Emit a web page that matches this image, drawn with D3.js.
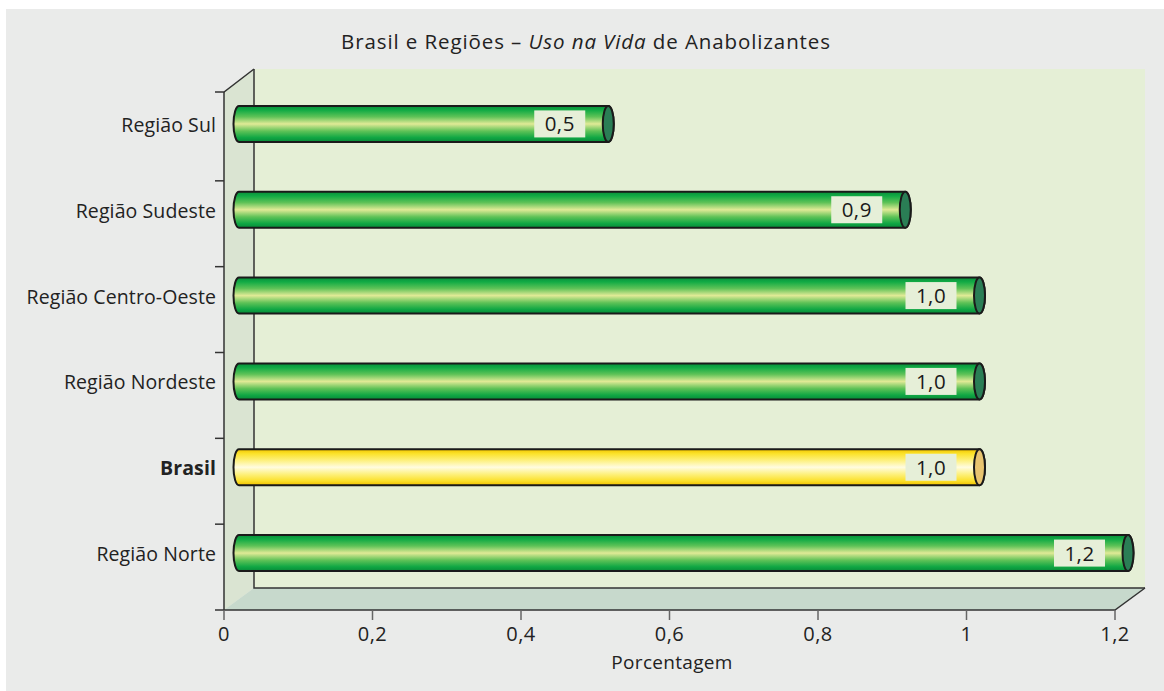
<!DOCTYPE html>
<html><head><meta charset="utf-8">
<script src="https://cdn.jsdelivr.net/npm/d3@7"></script>
<style>
html,body{margin:0;padding:0;background:#fff;}
svg{display:block;font-family:"Open Sans","Noto Sans",sans-serif;}
</style></head>
<body>
<svg id="chart" width="1164" height="691"></svg>
<script>
const categories = ["Região Sul","Região Sudeste","Região Centro-Oeste","Região Nordeste","Brasil","Região Norte"];
const values = [0.5, 0.9, 1.0, 1.0, 1.0, 1.2];
const valueLabels = ["0,5","0,9","1,0","1,0","1,0","1,2"];
const highlight = ["Brasil"];
const xTicks = [0, 0.2, 0.4, 0.6, 0.8, 1.0, 1.2];
const xTickLabels = ["0","0,2","0,4","0,6","0,8","1","1,2"];

(function(){
const svg = d3.select("#chart");
const W = 1164, H = 691;
const depthX = 30, depthY = -22;
const pL = 224, pR = 1115, pT = 92, pB = 610;

svg.append("rect").attr("x",6).attr("y",9).attr("width",W-6).attr("height",H-9).attr("fill","#eaebea");

const x = d3.scaleLinear().domain([0,1.2]).range([pL,pR]);
const y = d3.scaleBand().domain(categories).range([95,pB]).paddingInner(0).paddingOuter(0);

const defs = svg.append("defs");
function grad(id, stops){
  const g = defs.append("linearGradient").attr("id",id).attr("x1",0).attr("y1",0).attr("x2",0).attr("y2",1);
  stops.forEach(s=>g.append("stop").attr("offset",s[0]).attr("stop-color",s[1]));
}
grad("gGreen",[[0,"#078f3a"],[0.12,"#12ab45"],[0.3,"#5ec257"],[0.5,"#e0ea96"],[0.7,"#5ec257"],[0.88,"#10a744"],[1,"#078a38"]]);
grad("gYellow",[[0,"#f2c400"],[0.12,"#fbe22a"],[0.3,"#fdf07a"],[0.5,"#fffce0"],[0.7,"#fdf07a"],[0.88,"#fbe02a"],[1,"#f0c000"]]);

const bT = pT+depthY-1, bB = pB+depthY;
svg.append("rect").attr("x",pL+depthX).attr("y",bT).attr("width",pR-pL).attr("height",bB-bT).attr("fill","#e5efd6");
svg.append("path").attr("d",`M${pL},${pT} L${pL+depthX},${bT} L${pL+depthX},${bB} L${pL},${pB} Z`).attr("fill","#dae4d2");
svg.append("path").attr("d",`M${pL},${pB} L${pR},${pB} L${pR+depthX},${bB} L${pL+depthX},${bB} Z`).attr("fill","#c7d9cc");
const lc = "#333";
svg.append("path").attr("d",`M${pL+depthX},${bT} L${pL+depthX},${bB} L${pR+depthX},${bB}`)
  .attr("fill","none").attr("stroke",lc).attr("stroke-width",1.5);
svg.append("path").attr("d",`M${pL-9},${pT} L${pL},${pT} L${pL+depthX},${bT}`)
  .attr("fill","none").attr("stroke",lc).attr("stroke-width",1.5);
svg.append("path").attr("d",`M${pL},${pT} L${pL},${pB} L${pR},${pB} L${pR+depthX},${bB}`)
  .attr("fill","none").attr("stroke",lc).attr("stroke-width",1.5);

const yBounds = categories.map(c=>y(c)).concat([pB]);
svg.append("g").selectAll("line").data(yBounds.slice(1)).join("line")
  .attr("x1",pL-9).attr("x2",pL).attr("y1",d=>d).attr("y2",d=>d).attr("stroke",lc).attr("stroke-width",1.5);

svg.append("g").selectAll("line").data(xTicks).join("line")
  .attr("x1",d=>x(d)).attr("x2",d=>x(d)).attr("y1",pB).attr("y2",pB+10).attr("stroke","#666").attr("stroke-width",1.5);
svg.append("g").selectAll("text").data(xTicks).join("text")
  .attr("x",d=>x(d)).attr("y",641).attr("text-anchor","middle").attr("font-size",20).attr("letter-spacing",0.5).attr("fill","#222")
  .text((d,i)=>xTickLabels[i]);
svg.append("text").attr("x",672).attr("y",669).attr("text-anchor","middle").attr("font-size",19).attr("letter-spacing",0.3).attr("fill","#222").text("Porcentagem");

svg.append("g").selectAll("text").data(categories).join("text")
  .attr("x",pL-8).attr("y",d=>y(d)+y.bandwidth()/2-13+7)
  .attr("text-anchor","end").attr("font-size",19.5).attr("letter-spacing",0.1).attr("fill","#222")
  .attr("font-weight",d=>highlight.includes(d)?"bold":"normal")
  .text(d=>d);

const midX = depthX/2, midY = -14;
const bh = 36, rx = 5.5, ry = bh/2;
const bars = svg.append("g").selectAll("g").data(categories).join("g");
bars.each(function(c,i){
  const g = d3.select(this);
  const hi = highlight.includes(c);
  const x0 = x(0)+midX, x1 = x(values[i])+midX-2;
  const cy = y(c)+y.bandwidth()/2+midY;
  const yT = cy-ry, yB = cy+ry;
  g.append("path").attr("d",`M${x0},${yT} L${x1},${yT} A${rx},${ry} 0 0 1 ${x1},${yB} L${x0},${yB} A${rx},${ry} 0 0 1 ${x0},${yT} Z`)
    .attr("fill",hi?"url(#gYellow)":"url(#gGreen)").attr("stroke","#1a1a1a").attr("stroke-width",2);
  g.append("ellipse").attr("cx",x1).attr("cy",cy).attr("rx",rx).attr("ry",ry)
    .attr("fill",hi?"#e8c470":"#2a7e55").attr("stroke","#1a1a1a").attr("stroke-width",2);
  const bw = 51, bhh = 27;
  g.append("rect").attr("x",x1-23-bw).attr("y",cy-bhh/2).attr("width",bw).attr("height",bhh).attr("fill","#e6efd8");
  g.append("text").attr("x",x1-23-bw/2).attr("y",cy+7.5).attr("text-anchor","middle").attr("font-size",20.5).attr("letter-spacing",0.5).attr("fill","#1a1a1a")
    .text(valueLabels[i]);
});

const t = svg.append("text").attr("x",586).attr("y",49).attr("text-anchor","middle").attr("font-size",20.5).attr("letter-spacing",0.9).attr("fill","#222");
t.append("tspan").text("Brasil e Regiões – ");
t.append("tspan").attr("font-style","italic").text("Uso na Vida");
t.append("tspan").text(" de Anabolizantes");
})();
</script>
</body></html>
